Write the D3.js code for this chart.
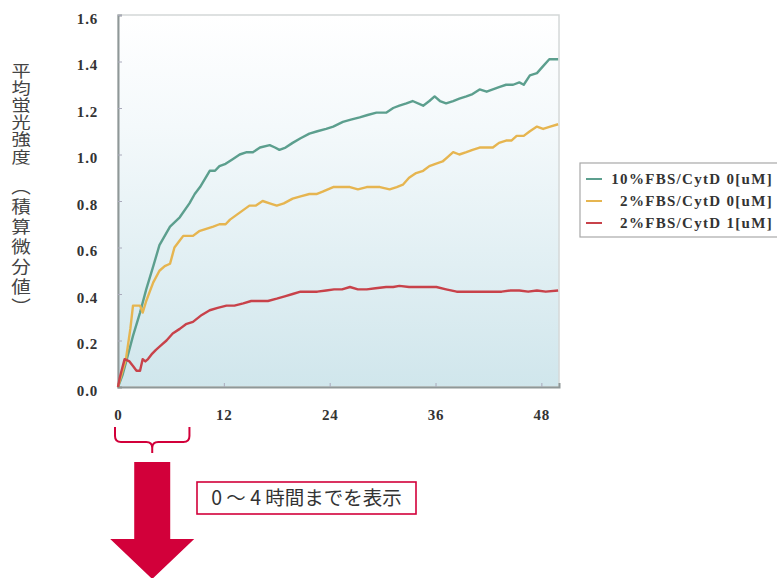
<!DOCTYPE html>
<html><head><meta charset="utf-8">
<script src="https://cdn.jsdelivr.net/npm/d3@7/dist/d3.min.js"></script>
<style>body{margin:0;background:#fff}svg{display:block}</style>
</head><body>
<svg id="c" width="777" height="578"></svg>
<script>
// ---- data ----
const seriesNames = ["10%FBS/CytD 0[uM]", "2%FBS/CytD 0[uM]", "2%FBS/CytD 1[uM]"];
const seriesColors = ["#5c9f8e", "#e6b550", "#c8424a"];
const xTicks = [0, 12, 24, 36, 48];
const yTicks = [0, 0.2, 0.4, 0.6, 0.8, 1.0, 1.2, 1.4, 1.6];

const tealHours = [0,0.5,1,1.7,2.5,3.2,4.0,4.7,5.3,5.9,7.0,8.1,8.7,9.3,10.4,11.0,11.5,12.2,13.0,13.8,14.6,15.3,16.1,17.2,17.8,18.3,19.0,19.8,20.7,21.7,22.6,23.6,24.4,25.5,26.4,27.4,28.3,29.3,30.4,31.2,31.9,32.7,33.4,34.6,35.3,35.9,36.5,37.2,38.0,38.7,39.5,40.2,41.0,41.8,42.5,43.2,44.0,44.8,45.5,46.0,46.7,47.5,48.2,48.9,49.9];
const tealValues = [0,0.05,0.12,0.22,0.32,0.42,0.52,0.61,0.65,0.69,0.73,0.79,0.83,0.86,0.93,0.93,0.95,0.96,0.98,1.00,1.01,1.01,1.03,1.04,1.03,1.02,1.03,1.05,1.07,1.09,1.10,1.11,1.12,1.14,1.15,1.16,1.17,1.18,1.18,1.20,1.21,1.22,1.23,1.21,1.23,1.25,1.23,1.22,1.23,1.24,1.25,1.26,1.28,1.27,1.28,1.29,1.30,1.30,1.31,1.30,1.34,1.35,1.38,1.41,1.41];

const yellowHours = [0,0.9,1.4,1.7,2.2,2.5,2.8,3.2,3.6,4.0,4.7,5.3,5.9,6.4,7.0,7.4,8.5,9.2,10.0,10.8,11.5,12.2,12.7,13.8,14.9,15.6,16.4,17.2,18.0,18.8,19.8,20.7,21.7,22.5,23.2,24.4,25.3,26.3,27.2,28.2,29.0,29.7,30.8,31.6,32.3,33.0,33.8,34.6,35.3,36.0,36.8,37.4,38.0,38.7,39.5,40.2,41.0,41.8,42.5,43.2,44.0,44.6,45.2,46.0,46.7,47.5,48.2,49.0,49.9];
const yellowValues = [0,0.12,0.25,0.35,0.35,0.35,0.32,0.37,0.41,0.45,0.50,0.52,0.53,0.60,0.63,0.65,0.65,0.67,0.68,0.69,0.70,0.70,0.72,0.75,0.78,0.78,0.80,0.79,0.78,0.79,0.81,0.82,0.83,0.83,0.84,0.86,0.86,0.86,0.85,0.86,0.86,0.86,0.85,0.86,0.87,0.90,0.92,0.93,0.95,0.96,0.97,0.99,1.01,1.00,1.01,1.02,1.03,1.03,1.03,1.05,1.06,1.06,1.08,1.08,1.10,1.12,1.11,1.12,1.13];

const redHours = [0,0.2,0.4,0.75,1.3,1.7,2.1,2.5,2.8,3.1,3.4,3.8,4.3,4.9,5.5,6.2,7.0,7.7,8.5,9.5,10.4,11.3,12.3,13.2,14.2,15.1,16.1,17.0,18.0,18.9,19.8,20.7,21.7,22.6,23.6,24.5,25.4,26.3,27.2,28.2,29.2,30.4,31.2,31.9,33.0,34.2,35.2,36.1,37.2,38.4,39.5,40.6,41.5,42.5,43.5,44.5,45.5,46.5,47.5,48.5,49.9];
const redValues = [0,0.04,0.07,0.12,0.11,0.09,0.07,0.07,0.12,0.11,0.12,0.14,0.16,0.18,0.20,0.23,0.25,0.27,0.28,0.31,0.33,0.34,0.35,0.35,0.36,0.37,0.37,0.37,0.38,0.39,0.40,0.41,0.41,0.41,0.415,0.42,0.42,0.43,0.42,0.42,0.425,0.43,0.43,0.435,0.43,0.43,0.43,0.43,0.42,0.41,0.41,0.41,0.41,0.41,0.41,0.415,0.415,0.41,0.415,0.41,0.415];

const yTitleMain = "平均蛍光強度";
const yTitleSub = "（積算微分値）";
const noteText = "0 ～ 4 時間までを表示";

// ---- drawing ----
const svg = d3.select("#c");
const x = d3.scaleLinear().domain([0, 50]).range([118, 559]);
const y = d3.scaleLinear().domain([0, 1.6]).range([387, 15]);

const defs = svg.append("defs");
const grad = defs.append("linearGradient").attr("id","bg").attr("x1",0).attr("y1",0).attr("x2",0).attr("y2",1);
grad.append("stop").attr("offset","0%").attr("stop-color","#ffffff");
grad.append("stop").attr("offset","30%").attr("stop-color","#f4f9fb");
grad.append("stop").attr("offset","100%").attr("stop-color","#d0e6ec");

svg.append("rect").attr("x", x(0)).attr("y", y(1.6))
  .attr("width", x(50)-x(0)).attr("height", y(0)-y(1.6))
  .attr("fill","url(#bg)").attr("stroke","#d4d8d8").attr("stroke-width",1.5);

// axes
const yAxis = d3.axisLeft(y).tickValues(yTicks).tickSize(-4).tickPadding(20).tickFormat(d3.format(".1f"));
const gy = svg.append("g").attr("transform",`translate(${x(0)},0)`).call(yAxis);
gy.select(".domain").attr("stroke","#8f9898").attr("stroke-width",2);
gy.selectAll(".tick line").attr("stroke","#aab").attr("stroke-width",1);
gy.selectAll(".tick text").attr("font-family","'Liberation Serif', serif").attr("font-weight","bold")
  .attr("font-size",15).attr("fill","#333").attr("letter-spacing","0.8px").attr("dy","0.55em");

const xAxis = d3.axisBottom(x).tickValues(xTicks).tickSize(-4).tickPadding(22).tickFormat(d3.format("d"));
const gx = svg.append("g").attr("transform",`translate(0,${y(0)})`).call(xAxis);
gx.select(".domain").attr("stroke","#8f9898").attr("stroke-width",2);
gx.selectAll(".tick line").attr("stroke","#aab").attr("stroke-width",1);
gx.selectAll(".tick text").attr("font-family","'Liberation Serif', serif").attr("font-weight","bold")
  .attr("font-size",15).attr("fill","#333").attr("letter-spacing","0.8px");

// lines
const series = [
  {h: tealHours, v: tealValues},
  {h: yellowHours, v: yellowValues},
  {h: redHours, v: redValues}
];
const line = d3.line().x(d => x(d[0])).y(d => y(d[1]));
series.forEach((s, i) => {
  const pts = s.h.map((h, j) => [h, s.v[j]]);
  svg.append("path").datum(pts).attr("d", line).attr("fill","none")
    .attr("stroke", seriesColors[i]).attr("stroke-width",2.4).attr("stroke-linejoin","round");
});

// legend
const lg = svg.append("g");
lg.append("rect").attr("x",580).attr("y",163).attr("width",210).attr("height",74)
  .attr("fill","#fff").attr("stroke","#a8a8a8").attr("stroke-width",1.2);
const legY = [179, 201, 223];
seriesNames.forEach((n, i) => {
  lg.append("line").attr("x1",586).attr("x2",602).attr("y1",legY[i]).attr("y2",legY[i])
    .attr("stroke", seriesColors[i]).attr("stroke-width",2);
  lg.append("text").attr("x",773).attr("y",legY[i]+5).attr("text-anchor","end")
    .attr("font-family","'Liberation Serif', serif").attr("font-weight","bold").attr("font-size",15)
    .attr("fill","#333").attr("letter-spacing","1.3px").text(n);
});

// y title (vertical writing)
svg.append("text").attr("transform","translate(21,63) scale(1.2,1)")
  .attr("x",0).attr("y",0)
  .style("writing-mode","vertical-rl")
  .attr("font-family","'Noto Sans CJK JP', sans-serif").attr("font-size",16).attr("fill","#444")
  .attr("letter-spacing","1.1px").text(yTitleMain);
svg.append("text").attr("transform","translate(21,178) scale(1.15,1)")
  .attr("x",0).attr("y",0)
  .style("writing-mode","vertical-rl")
  .attr("font-family","'Noto Sans CJK JP', sans-serif").attr("font-size",17).attr("fill","#444")
  .attr("letter-spacing","3px").text(yTitleSub);

// annotation: brace
const red = "#d2003a";
const bx0 = x(0) - 3, bx1 = x(8.1), bm = (bx0 + bx1) / 2, by0 = 427, by1 = 442;
svg.append("path").attr("fill","none").attr("stroke",red).attr("stroke-width",2)
  .attr("d",`M${bx0},${by0} L${bx0},${by1-6} Q${bx0},${by1} ${bx0+6},${by1} L${bm-6},${by1} Q${bm},${by1} ${bm},${by1+6} L${bm},${by1+11}
             M${bm},${by1+6} Q${bm},${by1} ${bm+6},${by1} L${bx1-6},${by1} Q${bx1},${by1} ${bx1},${by1-6} L${bx1},${by0}`);

// arrow
svg.append("path").attr("fill",red)
  .attr("d",`M${bm-18},462 L${bm+18},462 L${bm+18},539 L${bm+42},539 L${bm},579 L${bm-42},539 L${bm-18},539 Z`);

// note box
svg.append("rect").attr("x",197).attr("y",482).attr("width",219).attr("height",32)
  .attr("fill","#fff").attr("stroke",red).attr("stroke-width",1.6);
svg.append("text").attr("x",306.5).attr("y",505).attr("text-anchor","middle")
  .attr("font-family","'Noto Sans CJK JP', sans-serif").attr("font-size",19.5).attr("fill","#333")
  .text(noteText);
</script>
</body></html>
